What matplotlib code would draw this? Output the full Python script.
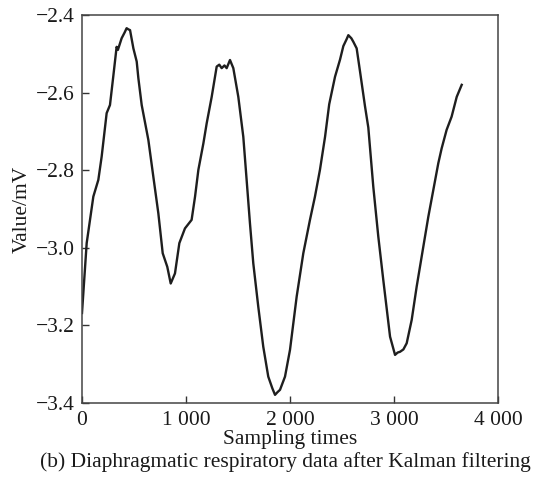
import matplotlib
matplotlib.use("Agg")
import matplotlib.pyplot as plt
from matplotlib.ticker import FuncFormatter

sample_x = [0, 45, 109, 157, 189, 237, 269, 300, 333, 345, 381, 410, 429, 446, 462, 494, 526, 542,
            574, 638, 686, 734, 776, 820, 853, 894, 936, 990, 1054, 1087, 1119, 1167, 1199,
            1247, 1295, 1320, 1343, 1370, 1391, 1423, 1455, 1503, 1551, 1583, 1615, 1647,
            1695, 1743, 1791, 1830, 1856, 1880, 1904, 1952, 2000, 2064, 2128, 2192, 2240,
            2288, 2337, 2377, 2433, 2481, 2513, 2545, 2561, 2590, 2609, 2641, 2673, 2721,
            2753, 2801, 2849, 2897, 2962, 3010, 3035, 3058, 3090, 3122, 3170, 3218, 3282,
            3330, 3378, 3426, 3458, 3506, 3554, 3603, 3651]
sample_v = [-3.168, -2.988, -2.868, -2.825, -2.765, -2.653, -2.632, -2.560, -2.482, -2.490,
            -2.460, -2.445, -2.434, -2.437, -2.439, -2.486, -2.520, -2.563, -2.632, -2.722,
            -2.817, -2.911, -3.014, -3.049, -3.092, -3.066, -2.988, -2.950, -2.928, -2.868,
            -2.799, -2.731, -2.679, -2.611, -2.533, -2.528, -2.537, -2.530, -2.537, -2.516,
            -2.537, -2.611, -2.714, -2.825, -2.937, -3.040, -3.152, -3.255, -3.332, -3.362,
            -3.379, -3.372, -3.366, -3.332, -3.263, -3.126, -3.014, -2.928, -2.868, -2.799,
            -2.714, -2.630, -2.559, -2.515, -2.480, -2.462, -2.452, -2.460, -2.469, -2.486,
            -2.545, -2.635, -2.690, -2.843, -2.971, -3.083, -3.229, -3.276, -3.270, -3.268,
            -3.262, -3.246, -3.186, -3.100, -2.997, -2.920, -2.851, -2.782, -2.744, -2.696,
            -2.662, -2.611, -2.580]

x_ticks = [0, 1000, 2000, 3000, 4000]
y_ticks = [-3.4, -3.2, -3.0, -2.8, -2.6, -2.4]

plt.rcParams['font.family'] = ['Liberation Serif', 'DejaVu Serif']

fig = plt.figure(figsize=(5.35, 4.92), dpi=100)
ax = fig.add_axes([82/535, 1-403/492, 416/535, 388/492])

ax.plot(sample_x, sample_v, color='#1e1e1e', lw=1.7)

ax.set_xlim(0, 4000)
ax.set_ylim(-3.4, -2.4)
ax.set_xticks(x_ticks)
ax.set_yticks(y_ticks)

def xfmt(v, pos):
    v = int(round(v))
    if v == 0:
        return "0"
    return f"{v:,}".replace(",", " ")

def yfmt(v, pos):
    return f"{v:.1f}".replace("-", "\u2212")

ax.xaxis.set_major_formatter(FuncFormatter(xfmt))
ax.yaxis.set_major_formatter(FuncFormatter(yfmt))

ax.tick_params(direction='in', length=5, width=1, colors='#333333',
               labelcolor='#1a1a1a', labelsize=15.5, top=False, right=False)
ax.tick_params(axis='x', pad=6)
ax.tick_params(axis='y', pad=5)

for s in ax.spines.values():
    s.set_color('#444444')
    s.set_linewidth(1.1)

ax.set_xlabel("Sampling times", fontsize=15.5, color='#1a1a1a', labelpad=0)
ax.set_ylabel("Value/mV", fontsize=15.5, color='#1a1a1a', labelpad=3)

fig.text(285/535, 1-462/492, "(b) Diaphragmatic respiratory data after Kalman filtering",
         ha='center', va='center', fontsize=15.5, color='#1a1a1a')

fig.savefig("out.png", dpi=100)
